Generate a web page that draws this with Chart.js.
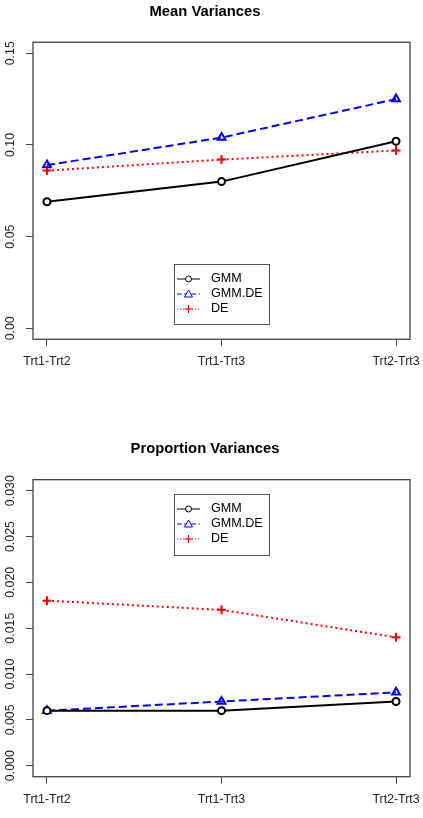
<!DOCTYPE html>
<html><head><meta charset="utf-8">
<script src="https://cdn.jsdelivr.net/npm/chart.js@4"></script>
<style>html,body{margin:0;padding:0;background:#fff}canvas{display:block}</style>
</head><body>
<canvas id="c1" width="423" height="409"></canvas>
<canvas id="c2" width="423" height="409"></canvas>
<script>
// ---- data ----
const categories = ['Trt1-Trt2', 'Trt1-Trt3', 'Trt2-Trt3'];
const seriesNames = ['GMM', 'GMM.DE', 'DE'];
const meanGMM = [0.069, 0.080, 0.102];
const meanGMMDE = [0.089, 0.104, 0.125];
const meanDE = [0.086, 0.092, 0.097];
const propGMM = [0.006, 0.006, 0.007];
const propGMMDE = [0.006, 0.007, 0.008];
const propDE = [0.018, 0.017, 0.014];
const meanTickValues = [0, 0.05, 0.10, 0.15];
const meanTickLabels = ['0.00', '0.05', '0.10', '0.15'];
const propTickValues = [0, 0.005, 0.010, 0.015, 0.020, 0.025, 0.030];
const propTickLabels = ['0.000', '0.005', '0.010', '0.015', '0.020', '0.025', '0.030'];

// ---- styles ----
const FONT = '"Liberation Sans", Arial, Helvetica, sans-serif';
const styles = [
  {color: '#000000', dash: [], point: 'circle', radius: 3.5},
  {color: '#0000ff', dash: [8, 4], point: 'triangle', radius: 4.5},
  {color: '#ff0000', dash: [2, 3], point: 'cross', radius: 4.5}
];

function toPoints(arr) { return arr.map((v, i) => ({x: i, y: v})); }

function makeDatasets(series) {
  return series.map((vals, k) => ({
    label: seriesNames[k],
    data: toPoints(vals),
    borderColor: styles[k].color,
    backgroundColor: '#ffffff',
    borderWidth: 2,
    borderDash: styles[k].dash,
    pointStyle: styles[k].point,
    pointRadius: styles[k].radius,
    pointBorderWidth: 2,
    pointBorderColor: styles[k].color,
    pointBackgroundColor: k === 0 ? '#ffffff' : 'rgba(0,0,0,0)',
    tension: 0,
    fill: false
  }));
}

const boxPlugin = {
  id: 'rbox',
  afterDatasetsDraw(chart) {
    const a = chart.chartArea, ctx = chart.ctx;
    ctx.save();
    ctx.strokeStyle = '#444';
    ctx.lineWidth = 1.3;
    ctx.setLineDash([]);
    ctx.strokeRect(a.left, a.top, a.right - a.left, a.bottom - a.top);
    ctx.restore();
  }
};

const legendPlugin = {
  id: 'rlegend',
  afterDraw(chart, args, opts) {
    const ctx = chart.ctx;
    ctx.save();
    ctx.strokeStyle = '#555';
    ctx.lineWidth = 1;
    ctx.setLineDash([]);
    ctx.strokeRect(opts.x + 0.5, opts.y + 0.5, opts.w, opts.h);
    chart.data.datasets.forEach((ds, i) => {
      const st = styles[i];
      const cy = opts.y + 15 + i * 15;
      const x0 = opts.x + 3, x1 = opts.x + 26, cx = (x0 + x1) / 2;
      ctx.strokeStyle = st.color;
      ctx.lineWidth = 1;
      ctx.setLineDash(st.dash.map(d => d * 0.6));
      ctx.beginPath(); ctx.moveTo(x0, cy); ctx.lineTo(x1, cy); ctx.stroke();
      ctx.setLineDash([]);
      ctx.beginPath();
      if (st.point === 'circle') {
        ctx.fillStyle = '#fff';
        ctx.arc(cx, cy, 3, 0, Math.PI * 2); ctx.fill(); ctx.stroke();
      } else if (st.point === 'triangle') {
        ctx.fillStyle = '#fff';
        ctx.moveTo(cx, cy - 4); ctx.lineTo(cx + 4, cy + 3); ctx.lineTo(cx - 4, cy + 3); ctx.closePath();
        ctx.fill(); ctx.stroke();
      } else {
        ctx.moveTo(cx - 4, cy); ctx.lineTo(cx + 4, cy);
        ctx.moveTo(cx, cy - 4); ctx.lineTo(cx, cy + 4); ctx.stroke();
      }
      ctx.fillStyle = '#000';
      ctx.font = '12.6px ' + FONT;
      ctx.textAlign = 'left';
      ctx.textBaseline = 'middle';
      ctx.fillText(ds.label, opts.x + 37, cy);
    });
    ctx.restore();
  }
};

function makeChart(id, title, series, tickValues, tickLabels, yMin, yMax, titlePad, xAxisH, legendBox, yPad) {
  return new Chart(document.getElementById(id), {
    type: 'line',
    data: {datasets: makeDatasets(series)},
    plugins: [boxPlugin, legendPlugin],
    options: {
      responsive: false,
      animation: false,
      devicePixelRatio: 1,
      events: [],
      layout: {padding: {left: 0, right: 13, top: 0, bottom: 0}},
      plugins: {
        legend: {display: false},
        tooltip: {enabled: false},
        title: {
          display: true, text: title, color: '#000',
          font: {size: 14.8, weight: 'bold', family: FONT},
          lineHeight: 1.2,
          padding: titlePad
        },
        rlegend: legendBox
      },
      scales: {
        x: {
          type: 'linear', min: -0.08, max: 2.08,
          afterBuildTicks: s => { s.ticks = categories.map((c, i) => ({value: i})); },
          afterFit: s => { s.height = xAxisH; s.paddingLeft = 0; s.paddingRight = 0; },
          border: {display: false},
          grid: {display: true, drawOnChartArea: false, drawTicks: true, tickLength: 7, color: '#444', lineWidth: 1},
          ticks: {
            autoSkip: false, maxRotation: 0, minRotation: 0, padding: 8,
            color: '#222', font: {size: 12.4, family: FONT},
            callback: (v, i) => categories[i]
          }
        },
        y: {
          type: 'linear', min: yMin, max: yMax,
          afterBuildTicks: s => { s.ticks = tickValues.map(v => ({value: v})); },
          afterFit: s => { s.width = 33; s.paddingTop = 0; s.paddingBottom = 0; },
          border: {display: false},
          grid: {display: true, drawOnChartArea: false, drawTicks: true, tickLength: 7, color: '#444', lineWidth: 1},
          ticks: {
            minRotation: 90, maxRotation: 90, crossAlign: 'center', padding: yPad,
            color: '#222', font: {size: 12.4, family: FONT},
            callback: (v, i) => tickLabels[i]
          }
        }
      }
    }
  });
}

makeChart('c1', 'Mean Variances', [meanGMM, meanGMMDE, meanDE], meanTickValues, meanTickLabels,
  -0.006, 0.156, {top: 3.2, bottom: 21.3}, 69.7, {x: 174, y: 264, w: 95, h: 60}, 3);
makeChart('c2', 'Proportion Variances', [propGMM, propGMMDE, propDE], propTickValues, propTickLabels,
  -0.0012, 0.0312, {top: 31.4, bottom: 21.5}, 41.3, {x: 174, y: 85, w: 95, h: 61}, 0);
</script>
</body></html>
